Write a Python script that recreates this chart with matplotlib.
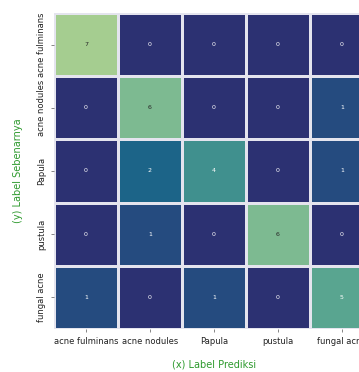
import matplotlib
matplotlib.use("Agg")
import matplotlib.pyplot as plt
import seaborn as sns
import numpy as np

labels = ["acne fulminans", "acne nodules", "Papula", "pustula", "fungal acne"]
row_0 = [7, 0, 0, 0, 0]
row_1 = [0, 6, 0, 0, 1]
row_2 = [0, 2, 4, 0, 1]
row_3 = [0, 1, 0, 6, 0]
row_4 = [1, 0, 1, 0, 5]
cm = np.array([row_0, row_1, row_2, row_3, row_4])

fig = plt.figure(figsize=(3.59, 3.72), dpi=100)
ax = fig.add_axes([54 / 359, 43 / 372, 320 / 359, 316 / 372])

sns.heatmap(cm, annot=True, fmt="d", cmap="crest_r", cbar=False,
            linewidths=0.8, linecolor="#e4e4ee",
            xticklabels=labels, yticklabels=labels,
            annot_kws={"size": 4.5}, ax=ax)

ax.tick_params(axis="both", labelsize=6, length=2, width=0.5, colors="#555555")
plt.setp(ax.get_xticklabels(), rotation=0, ha="center", color="#222222")
plt.setp(ax.get_yticklabels(), rotation=90, va="center", color="#222222")

ax.set_xlabel("(x) Label Prediksi", color="#2e9a2e", fontsize=7, labelpad=10)
ax.set_ylabel("(y) Label Sebenarnya", color="#2e9a2e", fontsize=7, labelpad=10)

fig.savefig("out.png", dpi=100)
